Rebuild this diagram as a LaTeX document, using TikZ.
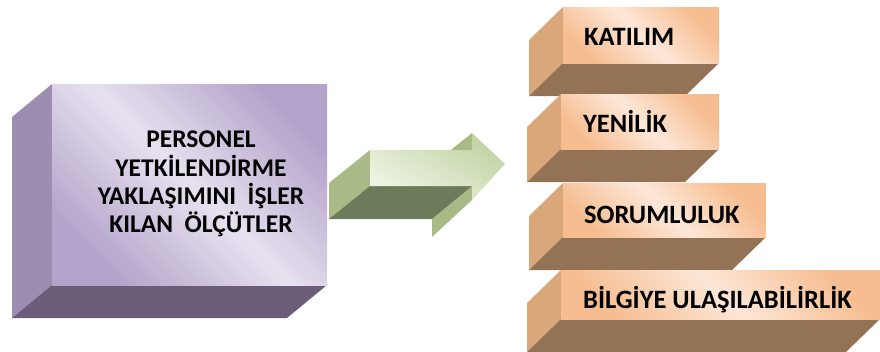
\documentclass[tikz,border=0pt]{standalone}
\usepackage{fontspec}
\setmainfont{Carlito}
\usetikzlibrary{positioning}

\definecolor{lilaFront}{HTML}{E7E1EF}
\definecolor{lilaEdge}{HTML}{B3A3CA}
\definecolor{lilaSide}{HTML}{9D8EB1}
\definecolor{lilaBase}{HTML}{6B5D79}
\definecolor{oraFront}{HTML}{FDE7D8}
\definecolor{oraEdge}{HTML}{F6BD90}
\definecolor{oraSide}{HTML}{D9A77A}
\definecolor{oraBase}{HTML}{937255}
\definecolor{yesFront}{HTML}{EEF4E5}
\definecolor{yesEdge}{HTML}{C2D3A4}
\definecolor{yesSide}{HTML}{A9BA87}
\definecolor{yesBase}{HTML}{6E7B5A}

\begin{document}
\begin{tikzpicture}[x=1pt,y=-1pt,
  every node/.style={font=\bfseries\fontsize{26.5}{30}\selectfont,inner sep=0pt},
  lilaface/.style={top color=lilaEdge,bottom color=lilaEdge,middle color=lilaFront,shading angle=-45},
  oraface/.style={top color=oraEdge,bottom color=oraEdge,middle color=oraFront,shading angle=-45},
  yesface/.style={left color=yesEdge,right color=yesFront,shading angle=-30}]
\useasboundingbox (0,0) rectangle (880,351);
% purple block
\coordinate (p0) at (52,84);
\coordinate (p1) at (327,84);
\coordinate (p2) at (327,285);
\coordinate (p3) at (52,285);
\fill[lilaSide] (p0)--(12,117)--(12,318)--(p3)--cycle;
\fill[lilaBase] (p3)--(p2)--(287,318)--(12,318)--cycle;
\shade[lilaface] (p0)--(p1)--(p2)--(p3)--cycle;
\node[align=center,font=\bfseries\fontsize{25.5}{28.3}\selectfont] (olcut) at (201,184)
  {PERSONEL\\YETKİLENDİRME\\YAKLAŞIMINI\ \ İŞLER\\KILAN\ \ ÖLÇÜTLER};
% arrow
\coordinate (a0) at (370,150);
\coordinate (a1) at (472,150);
\coordinate (a2) at (472,133);
\coordinate (a3) at (505,164);
\coordinate (a4) at (472,200);
\coordinate (a5) at (472,186);
\coordinate (a6) at (370,186);
\fill[yesSide] (a0)--(329,183)--(329,219)--(a6)--cycle;
\fill[yesSide] (a1)--(a2)--(431,166)--(431,183)--cycle;
\fill[yesSide] (a5)--(a4)--(432,237)--(432,219)--cycle;
\fill[yesBase] (a6)--(a5)--(432,219)--(329,219)--cycle;
\shade[yesface] (a0)--(a1)--(a2)--(a3)--(a4)--(a5)--(a6)--cycle;
% orange blocks
\fill[oraSide] (563,7)--(529,40)--(529,96)--(563,63)--cycle;
\fill[oraBase] (563,63)--(719,63)--(685,96)--(529,96)--cycle;
\shade[oraface] (563,7) rectangle (719,63);
\node[anchor=base west] (katilim) at (584,45) {KATILIM};
\fill[oraSide] (561,94)--(527,127)--(527,182)--(561,149)--cycle;
\fill[oraBase] (561,149)--(719,149)--(685,182)--(527,182)--cycle;
\shade[oraface] (561,94) rectangle (719,149);
\node[anchor=base west] (yenilik) at (583,132) {YENİLİK};
\fill[oraSide] (563,183)--(529,216)--(529,270)--(563,237)--cycle;
\fill[oraBase] (563,237)--(766,237)--(732,270)--(529,270)--cycle;
\shade[oraface] (563,183) rectangle (766,237);
\node[anchor=base west] (sorum) at (584,223) {SORUMLULUK};
\fill[oraSide] (561,270)--(527,303)--(527,352)--(561,319)--cycle;
\fill[oraBase] (561,319)--(880,319)--(846,352)--(527,352)--cycle;
\shade[oraface] (561,270) rectangle (880,319);
\node[anchor=base west] (bilgi) at (583,308) {BİLGİYE ULAŞILABİLİRLİK};
\end{tikzpicture}
\end{document}
